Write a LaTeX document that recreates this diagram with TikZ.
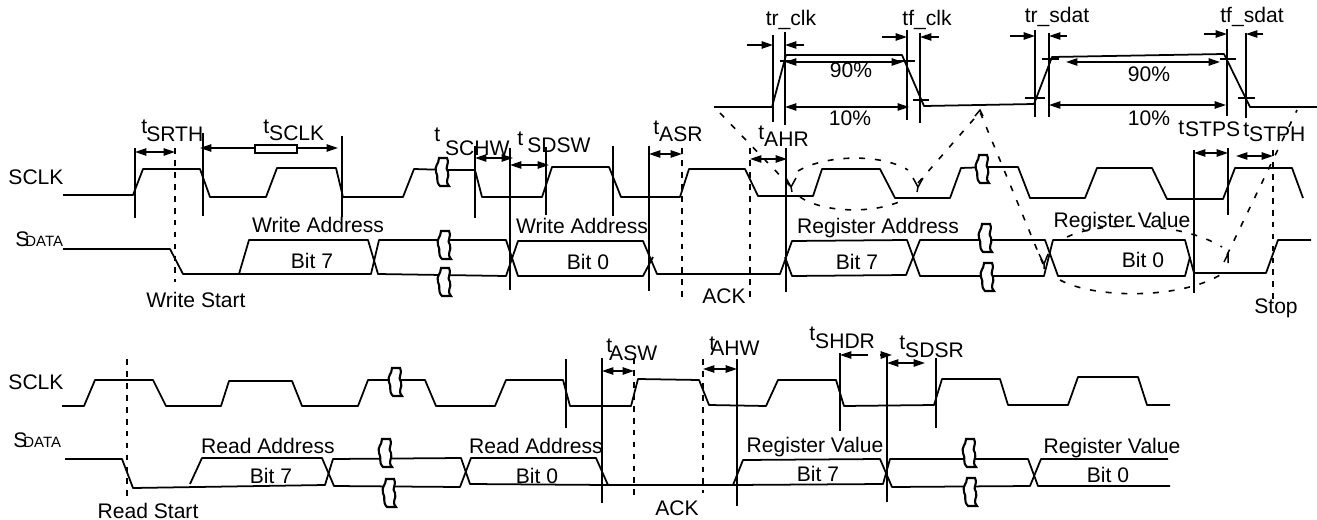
\documentclass[tikz,border=0pt]{standalone}
\usepackage{fontspec}
\setmainfont{Liberation Sans}
\usetikzlibrary{arrows.meta}
\tikzset{
  lbl/.style={font=\fontsize{12}{14}\selectfont, inner sep=0pt, anchor=base},
  tlbl/.style={font=\fontsize{12}{14}\selectfont, inner sep=0pt, anchor=base west},
  wave/.style={line width=1pt, line join=round},
  mark line/.style={line width=0.85pt},
  dash line/.style={line width=0.9pt, dash pattern=on 3.3pt off 3.5pt},
  call line/.style={line width=0.9pt, dash pattern=on 3.4pt off 5.6pt},
  dim/.style={line width=0.85pt, {Triangle[length=6.5pt,width=4.2pt]}-{Triangle[length=6.5pt,width=4.2pt]}},
  to tip/.style={line width=0.85pt, -{Triangle[length=6.5pt,width=4.2pt]}},
  brk/.pic={
    \draw[line width=1.2pt, fill=white] (4,0) -- (12,0) .. controls (15,7) and (9,9) .. (13,14)
      .. controls (15,20) and (9,22) .. (14,28) -- (5,28)
      .. controls (0,23) and (4,19) .. (1,14) .. controls (-1,8) and (4,6) .. (4,0) -- cycle;
  }
}
\newcommand{\tlab}[3]{\raisebox{#2pt}{t}\kern#1pt #3}
\newcommand{\sdata}{S\kern-2.3pt{\fontsize{8.5}{10}\selectfont DATA}}
\begin{document}
\begin{tikzpicture}[x=0.02cm,y=-0.02cm]
  \useasboundingbox (0,0) rectangle (1317,520);
  % enlarged edges at the top
  \draw[wave] (714,107) -- (772,107) -- (786,55) -- (902,55) -- (924,106) -- (1034,104) -- (1052,57) -- (1224,54) -- (1250,107) -- (1317,107);
  \draw[mark line] (773,35) -- (773,122);
  \draw[mark line] (785,32) -- (785,125);
  \draw[mark line] (907,30) -- (907,120);
  \draw[mark line] (920,33) -- (920,123);
  \draw[mark line] (1035,30) -- (1035,117);
  \draw[mark line] (1049,33) -- (1049,117);
  \draw[mark line] (1227,29) -- (1227,116);
  \draw[mark line] (1246,33) -- (1246,118);
  \draw[mark line] (780,61) -- (795,61);
  \draw[mark line] (898,61) -- (915,61);
  \draw[mark line] (913,100) -- (929,100);
  \draw[mark line] (1025,98) -- (1045,98);
  \draw[mark line] (1042,59) -- (1059,59);
  \draw[mark line] (1220,59) -- (1236,59);
  \draw[mark line] (1238,98) -- (1255,98);
  \draw[to tip] (747,45) -- (773,45);
  \draw[to tip] (804,45) -- (785,45);
  \draw[to tip] (882,37) -- (907,37);
  \draw[to tip] (939,37) -- (920,37);
  \draw[to tip] (1010,36) -- (1035,36);
  \draw[to tip] (1067,36) -- (1049,36);
  \draw[to tip] (1204,34) -- (1227,34);
  \draw[to tip] (1263,34) -- (1246,34);
  \draw[dim] (785,62) -- (903,62);
  \draw[dim] (785,107) -- (909,107);
  \draw[dim] (1066,62) -- (1220,62);
  \draw[dim] (1049,105) -- (1226,105);
  \node[lbl] (trclk) at (791,26) {tr\_clk};
  \node[lbl] (tfclk) at (927,26) {tf\_clk};
  \node[lbl] (trsdat) at (1057,23) {tr\_sdat};
  \node[lbl] (tfsdat) at (1252,23) {tf\_sdat};
  \node[lbl] (hiclk) at (851,78) {90\%};
  \node[lbl] (loclk) at (850,126) {10\%};
  \node[lbl] (hisdat) at (1149,82) {90\%};
  \node[lbl] (losdat) at (1149,126) {10\%};
  % dashed call-outs
  \draw[call line] (720,113) -- (792,188);
  \draw[call line] (918,183) -- (980,112) -- (1043,264);
  \draw[call line] (1227,255) -- (1297,110);
  \draw[call line] (798,171) .. controls (825,155) and (880,153) .. (908,170);
  \draw[call line] (800,197) .. controls (825,214) and (880,214) .. (907,198);
  \draw[call line] (1067,237) .. controls (1100,221) and (1180,221) .. (1222,247);
  \draw[call line] (1060,280) .. controls (1095,299) and (1180,299) .. (1220,275);
  \draw[mark line] (786,178) -- (791,187) (796,178) -- (791,187) -- (792,192);
  \draw[mark line] (913,178) -- (918,187) (923,178) -- (918,187) -- (917,192);
  \draw[mark line] (1039,254) -- (1044,264) (1048,254) -- (1044,264) -- (1044,269);
  \draw[mark line] (1224,262) -- (1228,254) -- (1228,263);
  \draw[mark line] (975,116) -- (980,110) -- (983,116);
  % write: SCLK
  \node[lbl] (sclka) at (36,185) {SCLK};
  \draw[wave] (63,195) -- (133,195) -- (143,169) -- (200,169) -- (210,197) -- (266,197) -- (277,168) -- (336,168) -- (343,197) -- (403,197) -- (414,169) -- (448,170) -- (475,170) -- (482,197) -- (542,197) -- (552,167) -- (609,167) -- (621,197) -- (680,197) -- (689,169) -- (745,169) -- (758,196) -- (813,196) -- (822,169) -- (880,169) -- (895,198) -- (950,198) -- (961,168) -- (990,167) -- (1018,167) -- (1030,198) -- (1085,198) -- (1097,168) -- (1152,168) -- (1167,199) -- (1223,199) -- (1235,168) -- (1292,168) -- (1303,198);
  % write: SDATA
  \node[lbl, anchor=base west] (sdataa) at (15,246) {\sdata};
  \draw[wave] (63,249) -- (170,249) -- (183,274) -- (239,274) -- (249,240) -- (368,240) -- (378,274) -- (506,276) -- (518,241) -- (643,241) -- (657,274) -- (780,274) -- (792,241) -- (907,240) -- (920,276) -- (1044,276) -- (1053,240) -- (1185,240) -- (1194,273) -- (1266,273) -- (1278,240) -- (1311,240);
  \draw[wave] (239,274) -- (371,274) -- (379,240) -- (506,240) -- (518,276) -- (643,276) -- (653,257);
  \draw[wave] (785,257) -- (792,276) -- (906,275) -- (920,240) -- (1045,240) -- (1058,276) -- (1185,276) -- (1190,257);
  \pic at (435,158) {brk};
  \pic at (437,231) {brk};
  \pic at (437,268) {brk};
  \pic at (975,155) {brk};
  \pic at (978,224) {brk};
  \pic at (980,263) {brk};
  % write: timing marks
  \draw[mark line] (135,148) -- (135,218);
  \draw[mark line] (203,133) -- (203,216);
  \draw[mark line] (342,136) -- (342,217);
  \draw[mark line] (475,146) -- (475,218);
  \draw[mark line] (510,148) -- (510,290);
  \draw[mark line] (546,147) -- (546,215);
  \draw[mark line] (613,146) -- (613,216);
  \draw[mark line] (649,146) -- (649,291);
  \draw[mark line] (786,148) -- (786,292);
  \draw[mark line] (1194,150) -- (1194,293);
  \draw[mark line] (1228,148) -- (1228,215);
  \draw[dash line] (175,148) -- (175,282);
  \draw[dash line] (682,148) -- (682,298);
  \draw[dash line] (750,148) -- (750,298);
  \draw[dash line] (1273,150) -- (1273,302);
  \draw[dim] (135,152) -- (175,152);
  \draw[dim] (200,148) -- (338,148);
  \draw[mark line, fill=white] (255,145) rectangle (297,153);
  \draw[dim] (475,158) -- (513,158);
  \draw[dim] (510,165) -- (549,165);
  \draw[dim] (649,154) -- (682,154);
  \draw[dim] (750,159) -- (787,159);
  \draw[dim] (1194,153) -- (1228,153);
  \draw[dim] (1236,156) -- (1273,156);
  \node[tlbl] (tsrth) at (141,142) {\tlab{-0.5}{5}{SRTH}};
  \node[tlbl] (tsclk) at (263,141) {\tlab{0}{4.5}{SCLK}};
  \node[tlbl] (tschw) at (434,156) {\tlab{2.8}{8}{SCHW}};
  \node[tlbl] (tsdsw) at (517,153) {\tlab{2.3}{4}{SDSW}};
  \node[tlbl] (tasr) at (653,142) {\tlab{0}{4.5}{ASR}};
  \node[tlbl] (tahr) at (758,147) {\tlab{0}{4.5}{AHR}};
  \node[tlbl] (tstps) at (1178,137) {\tlab{0.5}{1.5}{STPS}};
  \node[tlbl] (tstph) at (1243,142) {\tlab{0}{3.4}{STPH}};
  \node[lbl] (wadra) at (318,233) {Write Address};
  \node[lbl] (wbita) at (312,268) {Bit 7};
  \node[lbl] (wstart) at (196,307) {Write Start};
  \node[lbl] (wadrb) at (582,234) {Write Address};
  \node[lbl] (wbitb) at (588,269) {Bit 0};
  \node[lbl] (acka) at (724,303) {ACK};
  \node[lbl] (radra) at (878,234) {Register Address};
  \node[lbl] (rbita) at (857,269) {Bit 7};
  \node[lbl] (rvala) at (1122,227) {Register Value};
  \node[lbl] (rbitb) at (1143,267) {Bit 0};
  \node[lbl] (stop) at (1276,313) {Stop};
  % read: SCLK
  \node[lbl] (sclkb) at (36,389) {SCLK};
  \draw[wave] (62,406) -- (84,406) -- (95,380) -- (153,380) -- (166,406) -- (221,406) -- (229,381) -- (292,381) -- (302,406) -- (358,406) -- (368,380) -- (425,380) -- (436,406) -- (495,406) -- (506,380) -- (563,380) -- (570,406) -- (631,406) -- (638,379) -- (699,380) -- (709,405) -- (766,406) -- (778,380) -- (836,380) -- (844,406) -- (934,405) -- (942,379) -- (1000,379) -- (1008,405) -- (1068,405) -- (1078,377) -- (1138,377) -- (1147,405) -- (1170,405);
  % read: SDATA
  \node[lbl, anchor=base west] (sdatab) at (13,447) {\sdata};
  \draw[wave] (65,459) -- (122,459) -- (133,488) -- (325,485) -- (333,459) -- (461,458) -- (470,484) -- (608,485) -- (733,485) -- (743,460) -- (880,459) -- (892,487) -- (1030,486) -- (1041,459) -- (1168,459);
  \draw[wave] (190,484) -- (202,458) -- (322,458) -- (334,486) -- (460,487) -- (471,458) -- (596,458) -- (608,485);
  \draw[wave] (733,485) -- (883,484) -- (890,459) -- (1028,459) -- (1038,486) -- (1170,486);
  \pic at (388,368) {brk};
  \pic at (378,439) {brk};
  \pic at (382,479) {brk};
  \pic at (962,439) {brk};
  \pic at (963,478) {brk};
  % read: timing marks
  \draw[mark line] (566,359) -- (566,428);
  \draw[mark line] (602,358) -- (602,503);
  \draw[mark line] (737,359) -- (737,506);
  \draw[mark line] (840,353) -- (840,431);
  \draw[mark line] (887,355) -- (887,502);
  \draw[mark line] (936,358) -- (936,428);
  \draw[dash line] (127,359) -- (127,500);
  \draw[dash line] (634,358) -- (634,500);
  \draw[dash line] (703,359) -- (703,493);
  \draw[dim] (602,371) -- (634,371);
  \draw[dim] (703,369) -- (737,369);
  \draw[to tip] (868,355) -- (840,355);
  \draw[to tip] (880,355) -- (892,355);
  \draw[dim] (887,363) -- (925,363);
  \node[tlbl] (tasw) at (606,360) {\tlab{-1.7}{4}{ASW}};
  \node[tlbl] (tahw) at (709,355) {\tlab{-2.8}{2.3}{AHW}};
  \node[tlbl] (tshdr) at (809,348) {\tlab{0}{4}{SHDR}};
  \node[tlbl] (tsdsr) at (899,357) {\tlab{0}{4}{SDSR}};
  \node[lbl] (radrc) at (268,453) {Read Address};
  \node[lbl] (bitc) at (271,483) {Bit 7};
  \node[lbl] (rstart) at (148,518) {Read Start};
  \node[lbl] (radrd) at (536,453) {Read Address};
  \node[lbl] (bitd) at (537,483) {Bit 0};
  \node[lbl] (ackb) at (677,515) {ACK};
  \node[lbl] (rvalb) at (815,452) {Register Value};
  \node[lbl] (bite) at (818,481) {Bit 7};
  \node[lbl] (rvalc) at (1112,453) {Register Value};
  \node[lbl] (bitf) at (1108,482) {Bit 0};
\end{tikzpicture}
\end{document}
